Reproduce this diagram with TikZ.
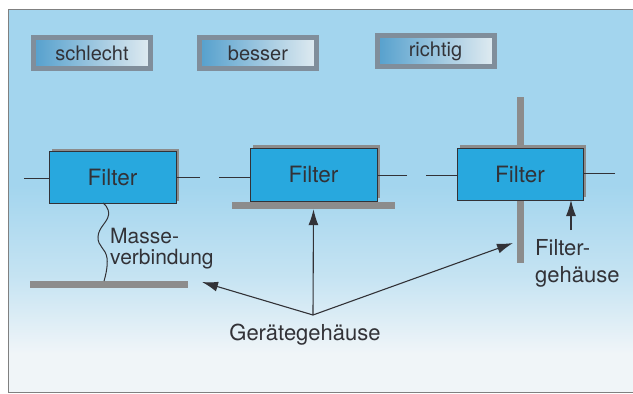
\documentclass[tikz,border=0pt]{standalone}
\usepackage{fontspec}
\setmainfont{TeX Gyre Heros}
\usetikzlibrary{arrows.meta,shadows}
\definecolor{bgblue}{RGB}{163,213,238}
\definecolor{bgpale}{RGB}{240,245,248}
\definecolor{filterblue}{RGB}{40,168,222}
\definecolor{btnblue}{RGB}{85,160,205}
\definecolor{btnlight}{RGB}{224,235,241}
\definecolor{btnframe}{RGB}{128,142,155}
\definecolor{plategray}{RGB}{140,140,140}
\definecolor{ink}{RGB}{50,50,55}
\pgfdeclareverticalshading{panel}{100bp}{color(0bp)=(bgpale); color(30bp)=(bgpale); color(40bp)=(bgblue!55!bgpale); color(52bp)=(bgblue); color(100bp)=(bgblue)}
\tikzset{
  filterbox/.style={draw=ink, fill=filterblue, minimum width=127pt, minimum height=52pt,
    font=\fontsize{22.5}{26}\selectfont, text=ink,
    general shadow={fill=plategray, shadow xshift=3pt, shadow yshift=3pt}},
  button/.style={left color=btnblue, right color=btnlight, draw=btnframe, line width=5pt,
    minimum width=117pt, minimum height=31pt,
    inner sep=0pt, font=\fontsize{20}{22}\selectfont, text=ink},
  plate/.style={fill=plategray, inner sep=0pt},
  lead/.style={draw=ink, line width=1pt},
  pointer/.style={draw=ink, line width=1.1pt, -{Latex[length=16pt,width=10pt]}},
  label/.style={text=ink, font=\fontsize{21}{24}\selectfont, inner sep=0pt, align=left}
}
\begin{document}
\begin{tikzpicture}[x=1pt,y=-1pt]
\useasboundingbox (0,0) rectangle (633,394);
% panel
\shade[shading=panel] (8,9) rectangle (640,392);
\draw[gray, line width=1pt] (640,9) -- (8,9) -- (8,392) -- (640,392);

% headings
\node[button] (schlecht) at (92,53) {schlecht};
\node[button] (besser) at (258,53) {besser};
\node[button] (richtig) at (435.5,51) {richtig};

% housings
\node[plate, minimum width=158pt, minimum height=7pt] (caseA) at (109,284.5) {};
\node[plate, minimum width=163pt, minimum height=7pt] (caseB) at (313.5,205.5) {};
\node[plate, minimum width=7pt, minimum height=166pt] (caseC) at (520,180) {};

% filters
\node[filterbox] (fA) at (112.5,177.5) {Filter};
\node[filterbox, minimum height=53pt] (fB) at (313.5,174.5) {Filter};
\node[filterbox, minimum width=126pt] (fC) at (520,174) {Filter};

\coordinate (inA) at (24,178);
\coordinate (outA) at (200,177);
\coordinate (inB) at (219,177);
\coordinate (outB) at (407,175);
\coordinate (inC) at (426,175);
\coordinate (outC) at (615,173);
\draw[lead] (inA) -- (inA -| fA.west);
\draw[lead] (outA) -- (outA -| fA.east);
\draw[lead] (inB) -- (inB -| fB.west);
\draw[lead] (outB) -- (outB -| fB.east);
\draw[lead] (inC) -- (inC -| fC.west);
\draw[lead] (outC) -- (outC -| fC.east);

% Masseverbindung
\draw[lead] plot[smooth, tension=0.8] coordinates {(103,203) (108.5,215) (98,237) (107,258) (104,281)};
\node[label, anchor=north west] (masse) at (110,228) {Masse-\\[-3pt]verbindung};

% Filtergehaeuse
\node[label, anchor=north west, font=\fontsize{22}{27}\selectfont] (fgeh) at (535,239) {Filter-\\gehäuse};
\draw[pointer] (fgeh.north west -| 571,0) ++(0,-9) -- (571,200);

% Geraetegehaeuse
\node[label, font=\fontsize{22}{26}\selectfont] (geraet) at (305,335) {Gerätegehäuse};
\coordinate (hub) at (313,315);
\draw[pointer] (hub) -- (202,282);
\draw[pointer] (hub) -- (caseB.south);
\draw[pointer] (hub) -- (513,243);
\end{tikzpicture}
\end{document}
